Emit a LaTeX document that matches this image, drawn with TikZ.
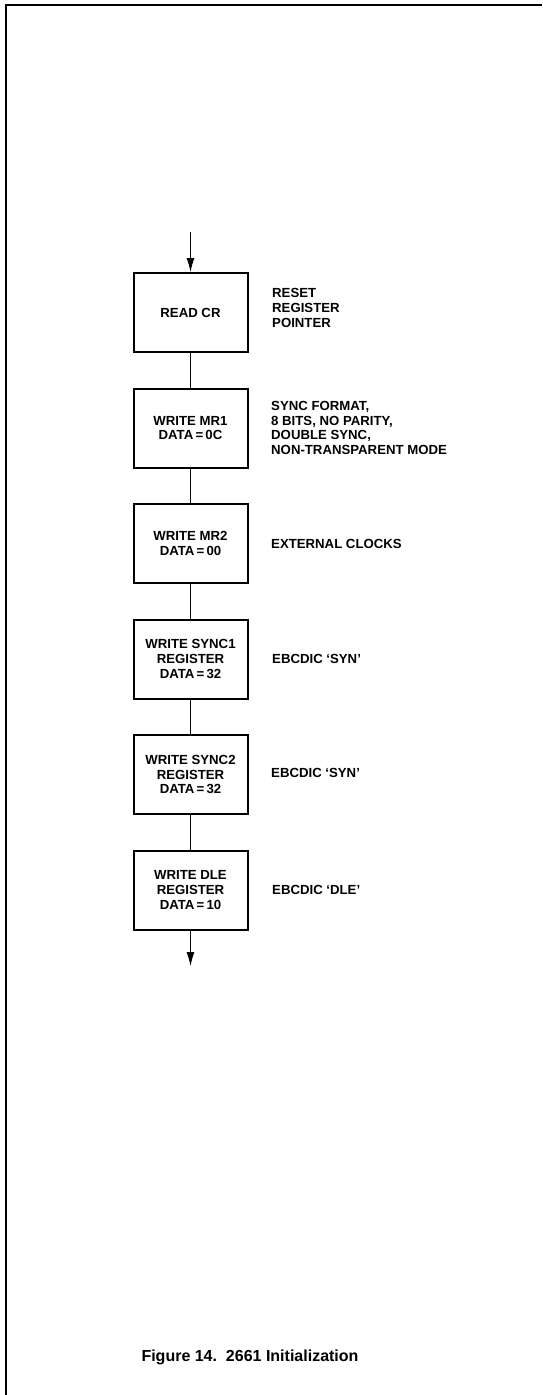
\documentclass[tikz,border=0pt]{standalone}
\usepackage{fontspec}
\setmainfont{Liberation Sans}
\usetikzlibrary{arrows.meta}
\begin{document}
\begin{tikzpicture}[x=1pt,y=-1pt,
  stepbox/.style={draw,line width=2pt,minimum width=114pt,minimum height=79pt,inner sep=0pt,align=center,
    font=\fontsize{13.2}{14.7}\selectfont\bfseries},
  note/.style={anchor=west,align=left,inner sep=0pt,font=\fontsize{13.2}{14.7}\selectfont\bfseries},
  link/.style={line width=1pt},
  flow/.style={line width=1pt,-{Latex[length=14pt,width=8pt]}}]
\useasboundingbox (0,0) rectangle (542,1395);
\draw[line width=2pt] (542,5) -- (5.5,5) -- (5.5,1395);
\coordinate (in) at (190.5,232);
\node[stepbox] (b1) at (190.5,312.5) {READ CR};
\node[stepbox] (b2) at (190.5,428) {WRITE MR1\\DATA\,=\,0C};
\node[stepbox] (b3) at (190.5,543.5) {WRITE MR2\\DATA\,=\,00};
\node[stepbox] (b4) at (190.5,659) {WRITE SYNC1\\REGISTER\\DATA\,=\,32};
\node[stepbox] (b5) at (190.5,774.5) {WRITE SYNC2\\REGISTER\\DATA\,=\,32};
\node[stepbox] (b6) at (190.5,890) {WRITE DLE\\REGISTER\\DATA\,=\,10};
\coordinate (out) at (190.5,966);
\draw[flow] (in) -- (b1.north);
\draw[link] (b1) -- (b2);
\draw[link] (b2) -- (b3);
\draw[link] (b3) -- (b4);
\draw[link] (b4) -- (b5);
\draw[link] (b5) -- (b6);
\draw[flow] (b6.south) -- (out);
\node[note] (n1) at (272,308) {RESET\\REGISTER\\POINTER};
\node[note] (n2) at (271,428) {SYNC FORMAT,\\8 BITS, NO PARITY,\\DOUBLE SYNC,\\NON-TRANSPARENT MODE};
\node[note] (n3) at (271,544) {EXTERNAL CLOCKS};
\node[note] (n4) at (272,659) {EBCDIC ‘SYN’};
\node[note] (n5) at (271,773) {EBCDIC ‘SYN’};
\node[note] (n6) at (272,890) {EBCDIC ‘DLE’};
\node[font=\fontsize{16}{18}\selectfont\bfseries] (cap) at (250,1357) {Figure 14.\ \ 2661 Initialization};
\end{tikzpicture}
\end{document}
